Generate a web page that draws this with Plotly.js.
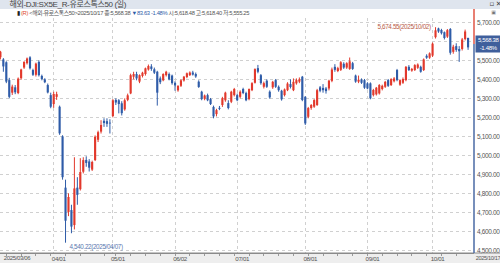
<!DOCTYPE html>
<html><head><meta charset="utf-8">
<script src="https://cdn.plot.ly/plotly-3.0.1.min.js"></script>
<style>html,body{margin:0;padding:0;background:#fff}#chart{width:500px;height:263px}
.main-svg text{letter-spacing:-0.35px}</style>
</head><body><div id="chart"></div>
<script>
// ---- data ----
const startDate = "2025-03-06";
const endDate = "2025-10-17";
const holidays = ["2025-04-18", "2025-04-21", "2025-05-01"];
const openVals = [5516,5505,5490,5396,5330,5358,5328,5406,5462,5485,5516,5449,5424,5492,5418,5400,5370,5317,5270,5308,
5256,5100,4830,4702,4712,4633,4830,4822,4914,4976,4968,4925,4975,5082,5125,5182,5180,5172,5207,5292,
5290,5274,5242,5292,5326,5414,5428,5388,5418,5428,5452,5468,5453,5440,5405,5395,5422,5428,5420,5382,
5342,5366,5394,5412,5422,5436,5428,5388,5335,5298,5317,5296,5255,5217,5250,5265,5290,5275,5282,5317,
5317,5308,5349,5328,5296,5343,5382,5459,5422,5361,5393,5335,5358,5396,5361,5340,5317,5343,5375,5343,
5379,5388,5414,5308,5203,5249,5256,5265,5358,5355,5352,5352,5392,5466,5444,5450,5482,5462,5455,5485,
5420,5388,5398,5396,5379,5379,5317,5321,5326,5349,5361,5396,5370,5390,5449,5372,5382,5396,5466,5446,
5449,5461,5466,5449,5524,5514,5525,5622,5668,5660,5648,5625,5665,5545,5575,5560,5560,5612,5618.48];
const highVals = [5550,5512,5495,5408,5372,5370,5410,5456,5495,5515,5522,5456,5488,5500,5425,5406,5378,5330,5335,5335,
5262,5106,4872,4800,4740,4990,4885,4985,4990,4995,4980,4972,5105,5130,5185,5195,5195,5190,5296,5300,
5296,5285,5300,5325,5430,5440,5440,5426,5440,5462,5478,5480,5462,5445,5415,5432,5445,5436,5425,5390,
5370,5400,5418,5436,5442,5445,5436,5395,5340,5320,5325,5302,5262,5245,5260,5308,5335,5290,5340,5355,
5325,5342,5356,5335,5352,5385,5458,5476,5428,5388,5400,5342,5392,5402,5368,5345,5352,5385,5400,5405,
5405,5410,5418,5312,5255,5270,5296,5350,5365,5375,5360,5398,5462,5480,5466,5496,5490,5490,5515,5492,
5425,5420,5405,5402,5385,5384,5350,5360,5375,5372,5392,5402,5406,5412,5455,5400,5410,5470,5475,5460,
5480,5484,5472,5510,5532,5542,5594,5674.55,5672,5666,5652,5665,5670,5582,5590,5575,5618,5662,5618.48];
const lowVals = [5505,5440,5380,5300,5318,5322,5322,5398,5455,5478,5452,5418,5415,5415,5395,5380,5326,5248,5250,5292,
5108,4872,4540.22,4680,4590,4610,4740,4815,4905,4940,4915,4918,4970,5070,5115,5150,5150,5115,5200,5265,
5221,5210,5235,5285,5322,5400,5395,5380,5410,5420,5446,5445,5428,5262,5375,5390,5415,5395,5372,5340,
5335,5360,5388,5406,5418,5420,5408,5355,5290,5290,5285,5265,5195,5205,5238,5255,5282,5242,5275,5310,
5285,5300,5322,5285,5290,5338,5378,5432,5372,5352,5355,5298,5350,5355,5335,5288,5310,5338,5352,5338,
5372,5380,5285,5160,5195,5240,5250,5260,5332,5330,5325,5342,5385,5440,5438,5444,5455,5455,5450,5450,
5382,5380,5376,5350,5348,5295,5310,5315,5320,5342,5355,5360,5365,5384,5390,5366,5376,5390,5444,5440,
5444,5455,5435,5444,5508,5508,5518,5615,5645,5636,5610,5618,5530,5535,5545,5492,5552,5605,5555.25];
const closeVals = [5545,5468,5388,5308,5362,5332,5404,5452,5492,5510,5458,5424,5483,5422,5402,5385,5331,5256,5323,5322,
5116,4885,4656,4781,4625,4826,4792,4912,4975,4960,4935,4965,5098,5122,5160,5170,5166,5168,5290,5278,
5270,5222,5290,5316,5422,5428,5405,5422,5435,5458,5470,5455,5435,5330,5385,5428,5440,5400,5380,5368,
5365,5395,5414,5432,5436,5425,5415,5360,5296,5315,5290,5270,5205,5238,5245,5301,5330,5249,5335,5349,
5290,5335,5328,5290,5349,5380,5454,5440,5380,5380,5361,5305,5387,5361,5343,5295,5347,5378,5360,5387,
5396,5400,5291,5168,5249,5265,5291,5343,5340,5343,5338,5393,5452,5450,5459,5490,5462,5485,5495,5455,
5388,5398,5382,5356,5352,5300,5344,5356,5370,5366,5387,5366,5401,5405,5396,5396,5402,5466,5449,5455,
5475,5478,5440,5505,5514,5537,5588,5658,5652,5643,5618,5659,5540,5572,5555,5548,5610,5652.01,5568.38];
const monthTickLabels = ["04/01","05/01","06/02","07/01","08/01","09/01","10/01"];
const yTickVals = [4500,4600,4700,4800,4900,5000,5100,5200,5300,5400,5500,5600,5700];
const yHiddenTick = 5600; // label covered by the current-price box in the reference
const highNote = {value: 5674.55, date: "2025/10/02"};
const lowNote = {value: 4540.22, date: "2025/04/07"};
const headerTitle = "해외-DJI:SX5E_R-유로스톡스50 (일)";
const lastInfo = {close: "5,568.38", change: "▼83.63", pct: "-1.48%", open: "5,618.48", high: "5,618.40", low: "5,555.25", date: "2025/10/17"};

// ---- trading-day categories ----
function ymd(d){const m=d.getUTCMonth()+1, dd=d.getUTCDate();return d.getUTCFullYear()+"-"+(m<10?"0":"")+m+"-"+(dd<10?"0":"")+dd;}
const dates = [];
for (let d = new Date(startDate+"T00:00:00Z"); ymd(d) <= endDate; d.setUTCDate(d.getUTCDate()+1)) {
  const wd = d.getUTCDay(); const s = ymd(d);
  if (wd===0 || wd===6 || holidays.includes(s)) continue;
  dates.push(s);
}
const n = closeVals.length;
const X = dates.slice(0, n);

const tickvals = [];
let lastM = X[0].slice(5,7);
X.forEach(s => { const m = s.slice(5,7); if (m !== lastM) { tickvals.push(s); lastM = m; } });
const mondays = X.filter(s => new Date(s+"T00:00:00Z").getUTCDay()===1);

const RED = "#e2392c", BLUE = "#2f5ca8";
const minBody = 4;
const up = {x:[],base:[],y:[]}, dn = {x:[],base:[],y:[]};
const wUp = {x:[],y:[]}, wDn = {x:[],y:[]};
for (let i=0;i<n;i++){
  const isUp = closeVals[i] >= openVals[i];
  const t = isUp ? up : dn, w = isUp ? wUp : wDn;
  t.x.push(X[i]); t.base.push(Math.min(openVals[i],closeVals[i]));
  t.y.push(Math.max(Math.abs(closeVals[i]-openVals[i]), minBody));
  w.x.push(X[i],X[i],null); w.y.push(lowVals[i],highVals[i],null);
}
const FONT = "'Liberation Sans','Noto Sans CJK KR',sans-serif";
const fmt = v => v.toLocaleString('en-US',{minimumFractionDigits:2,maximumFractionDigits:2});
const yTickText = yTickVals.map(v => v === yHiddenTick ? '' : fmt(v));

const traces = [
  {type:'scatter',mode:'lines',x:wUp.x,y:wUp.y,line:{color:RED,width:1},hoverinfo:'skip',connectgaps:false},
  {type:'scatter',mode:'lines',x:wDn.x,y:wDn.y,line:{color:BLUE,width:1},hoverinfo:'skip',connectgaps:false},
  {type:'bar',x:up.x,y:up.y,base:up.base,width:0.72,marker:{color:RED,line:{width:0}},hoverinfo:'skip'},
  {type:'bar',x:dn.x,y:dn.y,base:dn.base,width:0.72,marker:{color:BLUE,line:{width:0}},hoverinfo:'skip'}
];

const plotH = 235, plotW = 474;
const py = px => 1 + (18 - px)/plotH;
const pyb = px => -(px - 253)/plotH;
const idxHigh = highVals.indexOf(highNote.value);
const idxLow = lowVals.indexOf(lowNote.value);
const lastIdx = n-1;

const layout = {
  width:500, height:263,
  margin:{l:0,r:26,t:18,b:10,pad:0},
  paper_bgcolor:'#ffffff', plot_bgcolor:'#ffffff',
  showlegend:false, barmode:'overlay',
  font:{family:FONT,size:6.5,color:'#555'},
  xaxis:{type:'category', categoryorder:'array', categoryarray:X, range:[-0.135,160],
    tickvals:tickvals, ticktext:monthTickLabels,
    showgrid:true, gridcolor:'#d0d0d0', griddash:'dot', gridwidth:1,
    ticks:'', ticklabelshift:5, tickfont:{family:FONT,size:6.2,color:'#555'},
    showline:true, linecolor:'#8a8a8a', linewidth:1, zeroline:false, fixedrange:true,
    minor:{tickvals:mondays, ticks:'outside', ticklen:2, tickcolor:'#999', showgrid:false}},
  yaxis:{side:'right', range:[4486,5723], tickvals:yTickVals, ticktext:yTickText,
    showgrid:true, gridcolor:'#d0d0d0', griddash:'dot', gridwidth:1,
    ticks:'', ticklabelstandoff:2, tickfont:{family:FONT,size:6.5,color:'#555'},
    showline:false, zeroline:false, fixedrange:true},
  shapes:[
    {type:'rect',xref:'paper',yref:'paper',x0:0,x1:500/plotW,y0:py(9),y1:py(0),fillcolor:'#dfe5ee',line:{width:0},layer:'below'},
    {type:'rect',xref:'paper',yref:'paper',x0:0,x1:500/plotW,y0:pyb(263),y1:pyb(253),fillcolor:'#eeeeee',line:{width:0},layer:'below'},
    {type:'line',xref:'paper',yref:'paper',x0:0,x1:500/plotW,y0:0,y1:0,line:{color:'#8a8a8a',width:1}},
    {type:'line',xref:'paper',yref:'paper',x0:1,x1:1,y0:py(9),y1:py(44),line:{color:'#e05545',width:1.5}},
    {type:'line',xref:'paper',yref:'paper',x0:1,x1:1,y0:py(44),y1:0,line:{color:'#4a6aa5',width:1.5}}
  ],
  annotations:[
    {xref:'paper',yref:'paper',x:3/plotW,y:py(4.5),xanchor:'left',yanchor:'middle',showarrow:false,
     text:headerTitle,font:{family:FONT,size:8,color:'#444'}},
    {xref:'paper',yref:'paper',x:487/plotW,y:py(4.5),xanchor:'left',yanchor:'middle',showarrow:false,
     text:'▫ ✕',font:{family:'DejaVu Sans',size:7,color:'#444'}},
    {xref:'paper',yref:'paper',x:489/plotW,y:py(12),xanchor:'left',yanchor:'middle',showarrow:false,
     text:'▣',font:{family:'DejaVu Sans',size:5,color:'#777'}},
    {xref:'paper',yref:'paper',x:0,y:py(13),xanchor:'left',yanchor:'middle',showarrow:false,
     text:'<span style="color:#222">▮</span> <span style="color:#e04a30">(R)</span> &lt;해외-유로스톡스50&gt;'+lastInfo.date+' 종:'+lastInfo.close+
          ' <span style="color:#2f5ca8">'+lastInfo.change+' '+lastInfo.pct+'</span> 시:'+lastInfo.open+' 고:'+lastInfo.high+' 저:'+lastInfo.low,
     font:{family:FONT,size:5.8,color:'#555'}},
    {xref:'paper',yref:'paper',x:0,y:pyb(258),xanchor:'left',yanchor:'middle',showarrow:false,
     text:startDate.replace(/-/g,'/'),font:{family:FONT,size:6,color:'#555'}},
    {xref:'paper',yref:'paper',x:473/plotW,y:pyb(258),xanchor:'left',yanchor:'middle',showarrow:false,borderpad:0,
     text:endDate.replace(/-/g,'/'),font:{family:FONT,size:5.6,color:'#555'}},
    {xref:'x',yref:'y',x:X[idxHigh],y:highNote.value,ax:-32,ay:0,showarrow:true,arrowhead:2,arrowsize:0.6,arrowwidth:0.8,
     arrowcolor:'#b85a48',standoff:1,text:fmt(highNote.value)+'('+highNote.date+')',font:{family:FONT,size:6.3,color:'#b85a48'}},
    {xref:'x',yref:'y',x:X[idxLow],y:lowNote.value,ax:30,ay:4,showarrow:true,arrowhead:0,arrowwidth:0.8,
     arrowcolor:'#5a78b0',text:fmt(lowNote.value)+'('+lowNote.date+')',font:{family:FONT,size:6.3,color:'#5a78b0'}},
    {xref:'paper',yref:'y',x:475/plotW,y:closeVals[lastIdx],yshift:3,xanchor:'left',yanchor:'middle',showarrow:false,
     text:fmt(closeVals[lastIdx])+'<br>'+lastInfo.pct,bgcolor:'#3f5f9c',borderpad:1,width:23,align:'center',
     font:{family:FONT,size:6,color:'#ffffff'}}
  ]
};
Plotly.newPlot('chart', traces, layout, {staticPlot:true, displayModeBar:false});
</script></body></html>
